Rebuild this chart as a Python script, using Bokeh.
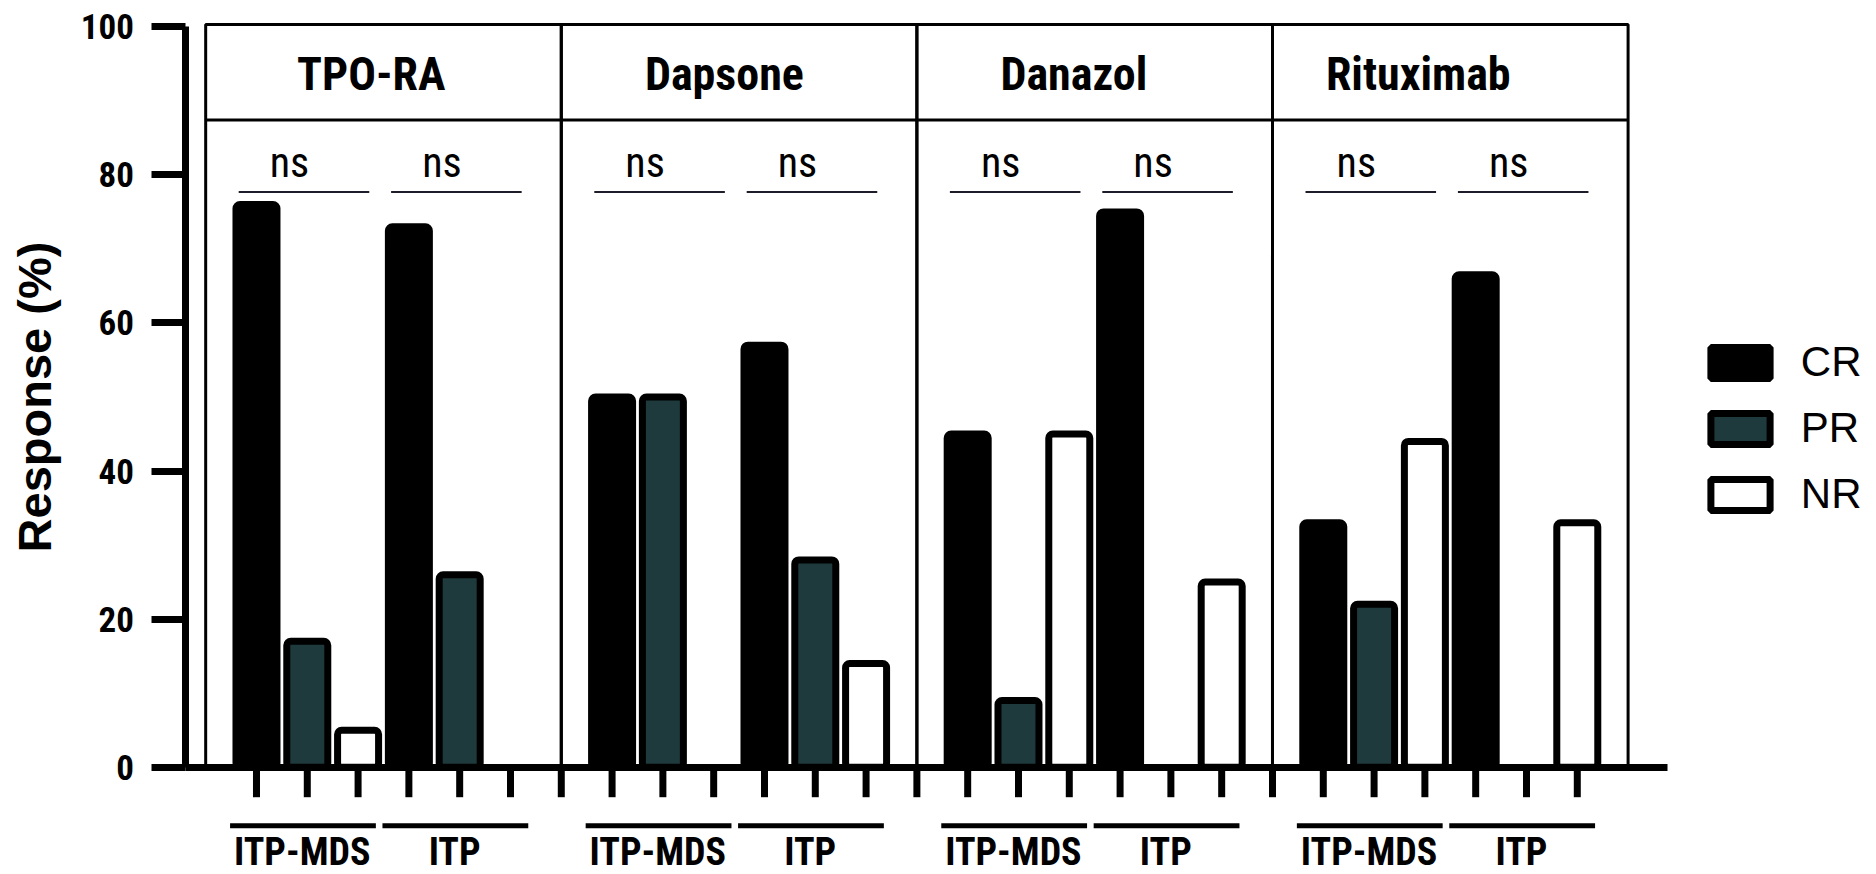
from bokeh.plotting import figure
from bokeh.models import ColumnDataSource, Range1d, FixedTicker, Legend, LegendItem
from bokeh.core.properties import value
from bokeh.embed import file_html
from bokeh.resources import INLINE

# ---------------- data ----------------
treatments = ["TPO-RA", "Dapsone", "Danazol", "Rituximab"]
groups = ["ITP-MDS", "ITP"]
responses = ["CR", "PR", "NR"]

cr_mds = [76, 50, 45, 33]
pr_mds = [17, 50, 9, 22]
nr_mds = [5, 0, 45, 44]
cr_itp = [73, 57, 75, 66.5]
pr_itp = [26, 28, 0, 0]
nr_itp = [0, 14, 25, 33]

sig_label = "ns"
y_ticks = [0, 20, 40, 60, 80, 100]
y_title = "Response (%)"

colors = {"CR": "#000000", "PR": "#1f3a3d", "NR": "#ffffff"}

# ---------------- layout helpers ----------------
SLOTS_PER_PANEL = 7   # 6 bars + 1 gap
PX_PER_UNIT = 7.404
TITLE_DX = [-0.24, -0.29, -0.41, -0.63]   # title offsets (layout only)


def slot(t, g, r):
    return SLOTS_PER_PANEL * t + 3 * g + r


series = {
    "CR": [cr_mds, cr_itp],
    "PR": [pr_mds, pr_itp],
    "NR": [nr_mds, nr_itp],
}

COND = "Roboto Condensed, Liberation Sans Narrow, Roboto, sans-serif"
SANS = "Liberation Sans, Arial, sans-serif"

p = figure(width=1876, height=874, output_backend="svg", toolbar_location=None,
           x_range=Range1d(-5.039, 31.890), y_range=Range1d(-14.49, 103.55),
           min_border=0, min_border_left=0, min_border_right=0,
           min_border_top=0, min_border_bottom=0)
p.outline_line_color = None
p.xgrid.visible = False
p.ygrid.visible = False
p.background_fill_color = "white"

n_t = len(treatments)
n_slots = SLOTS_PER_PANEL * n_t - 1

# panel boxes and header line
p.quad(left=[SLOTS_PER_PANEL * t - 1 for t in range(n_t)],
       right=[SLOTS_PER_PANEL * t + 6 for t in range(n_t)],
       bottom=[0] * n_t, top=[100.3] * n_t,
       fill_alpha=0, line_color="black", line_width=3)
p.segment(x0=[-1], x1=[n_slots], y0=[87.4], y1=[87.4],
          line_color="black", line_width=3)

# panel titles
p.text(x=[SLOTS_PER_PANEL * t + 2.5 + TITLE_DX[t] for t in range(n_t)], y=[93.6] * n_t,
       text=treatments, text_align="center", text_baseline="middle",
       text_font=value(COND), text_font_style="bold", text_font_size="46px",
       text_color="black")

# bars
renderers = {}
for ri, resp in enumerate(responses):
    xs, tops = [], []
    for t in range(n_t):
        for g in range(len(groups)):
            v = series[resp][g][t]
            if v > 0:
                xs.append(slot(t, g, ri))
                tops.append(v)
    src = ColumnDataSource(dict(x=xs, top=tops))
    renderers[resp] = p.vbar(x="x", top="top", bottom=0, width=0.807, source=src,
                             fill_color=colors[resp], line_color="black",
                             line_width=7, border_radius=4)

# significance lines + "ns"
gc = [slot(t, g, 1) for t in range(n_t) for g in range(len(groups))]
p.segment(x0=[c - 1.35 for c in gc], x1=[c + 1.22 for c in gc],
          y0=[77.7] * len(gc), y1=[77.7] * len(gc),
          line_color="#1c1c2a", line_width=2)
p.text(x=[c - 0.35 for c in gc], y=[81.7] * len(gc), text=[sig_label] * len(gc),
       text_align="center", text_baseline="middle",
       text_font=value(COND), text_font_size="42px", text_color="black")

# x tick marks (one per slot, gaps included)
tick_len = 30 / PX_PER_UNIT
p.segment(x0=list(range(n_slots)), x1=list(range(n_slots)),
          y0=[0] * n_slots, y1=[-tick_len] * n_slots,
          line_color="black", line_width=7)

# group underlines and labels
p.segment(x0=[c - 1.52 for c in gc], x1=[c + 1.35 for c in gc],
          y0=[-7.9] * len(gc), y1=[-7.9] * len(gc),
          line_color="black", line_width=5)
p.text(x=[c - 0.1 for c in gc], y=[-11.5] * len(gc),
       text=[groups[g] for t in range(n_t) for g in range(len(groups))],
       text_align="center", text_baseline="middle",
       text_font=value(COND), text_font_style="bold", text_font_size="38px",
       text_color="black")

# axes
yax = p.yaxis[0]
yax.fixed_location = -1.39
yax.bounds = (0, 100)
yax.ticker = FixedTicker(ticks=y_ticks)
yax.minor_tick_line_color = None
yax.major_tick_out = 34
yax.major_tick_in = 0
yax.major_tick_line_width = 7
yax.axis_line_width = 7
yax.major_label_standoff = 18
yax.major_label_text_font = COND
yax.major_label_text_font_style = "bold"
yax.major_label_text_font_size = "35px"
yax.major_label_text_color = "black"
yax.axis_label = y_title
yax.axis_label_text_font = SANS
yax.axis_label_text_font_style = "bold"
yax.axis_label_text_font_size = "47px"
yax.axis_label_standoff = 16
yax.axis_label_text_color = "black"

xax = p.xaxis[0]
xax.fixed_location = 0
xax.bounds = (-1.39, 27.77)
xax.ticker = FixedTicker(ticks=[])
xax.minor_tick_line_color = None
xax.axis_line_width = 7

# legend
legend = Legend(items=[LegendItem(label=r, renderers=[renderers[r]]) for r in responses],
                location=(1702.8, 355.8), orientation="vertical",
                glyph_width=74, glyph_height=39, label_standoff=24, spacing=18,
                padding=0, margin=0, border_line_color=None, background_fill_alpha=0,
                label_text_font=SANS, label_text_font_size="42px",
                label_text_color="black", label_height=39)
p.add_layout(legend, "center")

open("out.html", "w").write(file_html(p, INLINE))
